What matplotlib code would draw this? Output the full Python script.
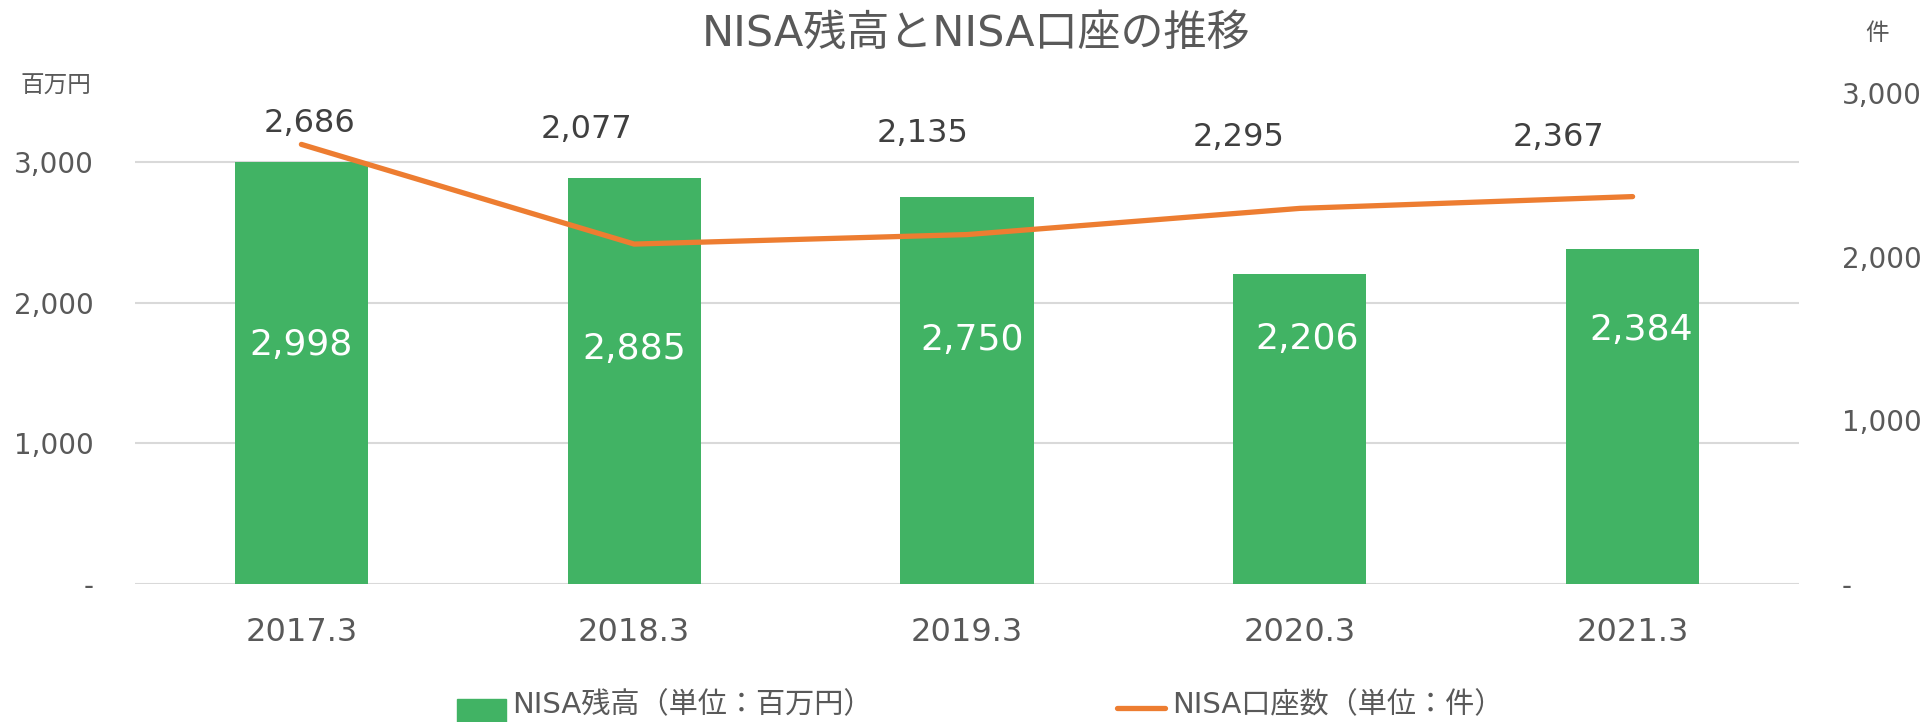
from matplotlib import pyplot as plt
from matplotlib import patches as pts
from matplotlib.lines import Line2D
from matplotlib.ticker import FuncFormatter

plt.rcParams['font.family'] = ['DejaVu Sans', 'Noto Sans CJK JP']

# data
years = ['2017.3', '2018.3', '2019.3', '2020.3', '2021.3']
zandaka = [2998, 2885, 2750, 2206, 2384]   # NISA balance, million yen
kouza = [2686, 2077, 2135, 2295, 2367]     # NISA accounts

green = '#41B364'
orange = '#ED7D31'
grey = '#595959'

W, H = 1926, 722
fig = plt.figure(figsize=(W/100, H/100), dpi=100)
ax = fig.add_axes([135/W, 138/H, (1799-135)/W, (584-93)/H])
ax2 = ax.twinx()

x = range(len(years))
ax.bar(x, zandaka, width=0.40, color=green, zorder=3)
ax.set_xlim(-0.5, 4.5)
ax.set_ylim(0, 3490)
ax.set_yticks([0, 1000, 2000, 3000])
ax.yaxis.grid(True, color='#D9D9D9', lw=1.5, zorder=0)
ax.set_axisbelow(True)

fmt = FuncFormatter(lambda v, p: '-' if v == 0 else '{:,.0f}'.format(v))
ax.yaxis.set_major_formatter(fmt)
ax.tick_params(axis='y', length=0, pad=30, labelsize=20, labelcolor=grey)
ax.set_xticks(list(x))
ax.set_xticklabels(years)
ax.tick_params(axis='x', length=0, pad=24, labelsize=23, labelcolor=grey)

ax2.plot(x, kouza, color=orange, lw=3.8, solid_capstyle='round', zorder=4)
ax2.set_ylim(0, 3000)
ax2.set_yticks([0, 1000, 2000, 3000])
ax2.yaxis.set_major_formatter(fmt)
ax2.tick_params(axis='y', length=0, pad=31, labelsize=20, labelcolor=grey)

for a in (ax, ax2):
    for s in a.spines.values():
        s.set_visible(False)

# bar labels (white, inside the bars)
bar_lab_y = [1696, 1668, 1732, 1739, 1803]
bar_lab_dx = [0, 0, 4, 5, 6]
for i, v in enumerate(zandaka):
    ax.annotate('{:,}'.format(v), (i, bar_lab_y[i]), xytext=(bar_lab_dx[i], 0),
                textcoords='offset points', ha='center', va='center',
                color='white', fontsize=26, zorder=5)

# line labels, placed above the plot line
line_lab_y = [2816, 2780, 2755, 2728, 2728]
line_lab_dx = [6, -34, -32, -44, -53]
for i, v in enumerate(kouza):
    ax2.annotate('{:,}'.format(v), (i, line_lab_y[i]), xytext=(line_lab_dx[i], 0),
                 textcoords='offset points', ha='center', va='center',
                 color='#404040', fontsize=23, annotation_clip=False)

fig.text(976/W, 1-34/H, 'NISA残高とNISA口座の推移', ha='center', va='center',
         fontsize=31, color=grey)
fig.text(20/W, 1-86/H, '百万円', ha='left', va='center', fontsize=17, color=grey)
fig.text(1877/W, 1-33/H, '件', ha='center', va='center', fontsize=17, color=grey)

# legend, drawn by hand at the bottom edge
fig.patches.append(pts.Rectangle((457/W, 0), 49/W, 23/H, transform=fig.transFigure,
                                 color=green))
fig.lines.append(Line2D([1117/W, 1165/W], [14/H, 14/H], transform=fig.transFigure,
                        color=orange, lw=3.8, solid_capstyle='round'))
fig.text(512/W, 17/H, 'NISA残高（単位：百万円）', ha='left', va='center',
         fontsize=21, color=grey)
fig.text(1172/W, 17/H, 'NISA口座数（単位：件）', ha='left', va='center',
         fontsize=21, color=grey)

fig.savefig('out.png', dpi=100)
